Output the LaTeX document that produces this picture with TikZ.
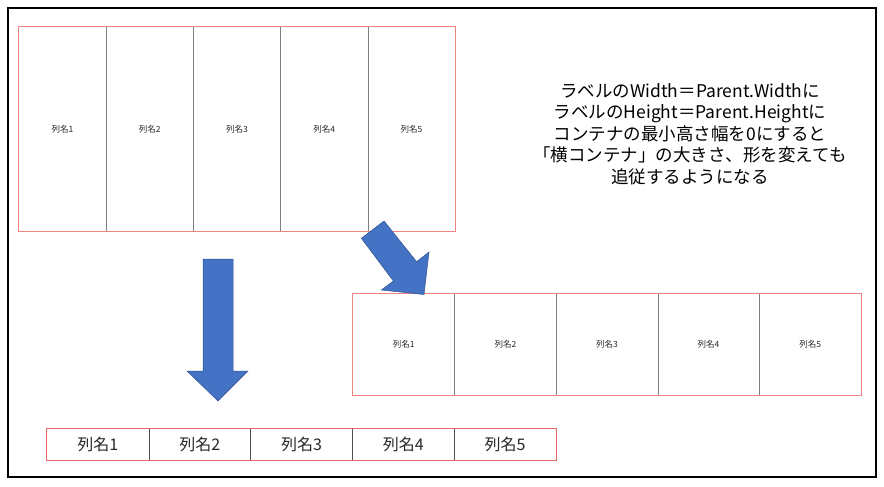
\documentclass[tikz,border=0pt]{standalone}
\usepackage{fontspec}
\setmainfont{Noto Sans CJK JP}
\definecolor{boxred}{RGB}{240,130,130}
\definecolor{boxred2}{RGB}{232,100,100}
\definecolor{divgray}{RGB}{128,128,128}
\definecolor{divdark}{RGB}{80,80,80}
\definecolor{arrowfill}{RGB}{68,114,196}
\definecolor{arrowline}{RGB}{47,82,143}
\definecolor{txt}{RGB}{38,38,38}
\tikzset{
  cellbox/.style={inner sep=0pt, text=txt},
  divider/.style={draw=divgray, line width=0.8pt},
  smalllab/.style={font=\fontsize{8.5}{10}\selectfont},
  biglab/.style={font=\fontsize{16}{18}\selectfont},
  container/.style={draw=boxred, line width=1.1pt},
  blockarrow/.style={fill=arrowfill, draw=arrowline, line width=0.5pt},
}
\begin{document}
\begin{tikzpicture}[x=1pt, y=-1pt]
\useasboundingbox (0,0) rectangle (884,487);
\fill[white] (0,0) rectangle (884,487);
\draw[line width=1.3pt, black] (8,8) rectangle (876,477);

% top container
\foreach \i in {1,...,5}
  \node[cellbox, smalllab, minimum width=87.2pt, minimum height=204pt] (t\i) at ({19+87.2*\i-43.6},129) {列名\i};
\foreach \i in {1,...,4}
  \draw[divider] (t\i.north east) -- (t\i.south east);
\draw[container] (t1.north west) rectangle (t5.south east);

% right container
\foreach \i in {1,...,5}
  \node[cellbox, smalllab, minimum width=101.6pt, minimum height=101pt] (r\i) at ({353+101.6*\i-50.8},344.5) {列名\i};
\foreach \i in {1,...,4}
  \draw[divider] (r\i.north east) -- (r\i.south east);
\draw[container] (r1.north west) rectangle (r5.south east);

% bottom container
\foreach \i in {1,...,5}
  \node[cellbox, biglab, minimum width=101.8pt, minimum height=31pt] (b\i) at ({47+101.8*\i-50.9},444.5) {列名\i};
\foreach \i in {1,...,4}
  \draw[divider, draw=divdark] (b\i.north east) -- (b\i.south east);
\draw[container, draw=boxred2] (b1.north west) rectangle (b5.south east);

% arrows
\draw[blockarrow] (203,259) -- (233,259) -- (233,371) -- (248,371) -- (218,401) -- (187,371) -- (203,371) -- cycle;
\draw[blockarrow] (384,221) -- (416.6,261.7) -- (429,252) -- (424,294.5) -- (381.4,290) -- (393.4,281) -- (361.4,238.3) -- cycle;

% note
\node[align=center, text=black, font=\fontsize{17.5}{21.5}\selectfont] (note) at (690,134)
  {ラベルのWidth＝Parent.Widthに\\ラベルのHeight＝Parent.Heightに\\コンテナの最小高さ幅を0にすると\\「横コンテナ」の大きさ、形を変えても\\追従するようになる};
\end{tikzpicture}
\end{document}
